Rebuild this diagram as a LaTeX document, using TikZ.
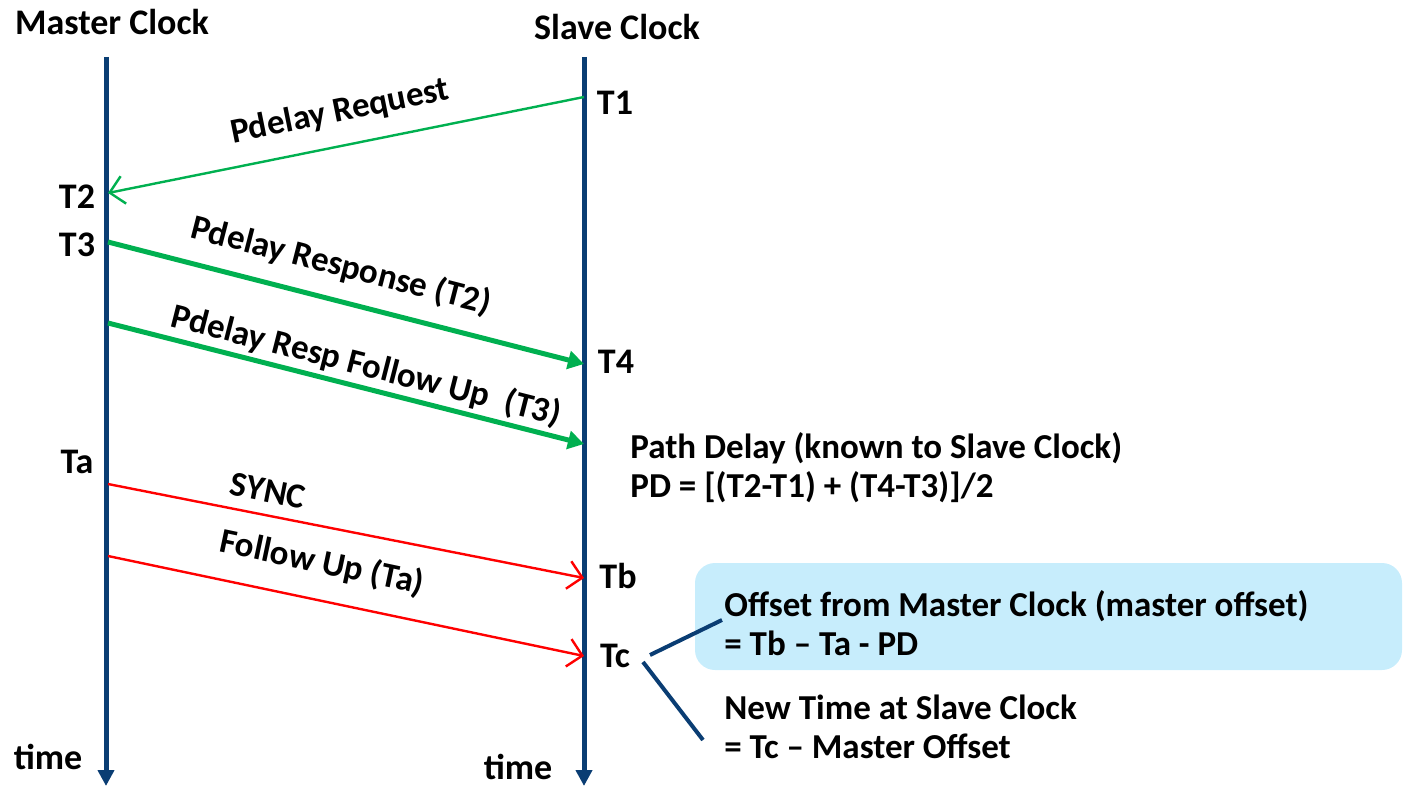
\documentclass[tikz,border=0pt]{standalone}
\usepackage{fontspec}
\setmainfont{Carlito}
\usetikzlibrary{arrows.meta}
\definecolor{clockblue}{RGB}{10,61,115}
\definecolor{msggreen}{RGB}{0,176,80}
\definecolor{msgred}{RGB}{255,0,0}
\definecolor{notefill}{RGB}{199,237,252}
\tikzset{
  timeline/.style={draw=clockblue, line width=2.5pt, -{Triangle[length=8pt,width=8pt]}},
  reqmsg/.style={draw=msggreen, line width=1.2pt, -{Straight Barb[length=7pt,width=14pt]}},
  respmsg/.style={draw=msggreen, line width=2.5pt, -{Triangle[length=8pt,width=9pt]}},
  syncmsg/.style={draw=msgred, line width=1.2pt, -{Straight Barb[length=7pt,width=14pt]}},
  callout/.style={draw=clockblue, line width=2pt},
  head/.style={font=\fontsize{18pt}{20pt}\selectfont\bfseries, inner sep=0pt},
  lbl/.style={font=\fontsize{18pt}{22pt}\selectfont\bfseries, inner sep=0pt},
  msglbl/.style={font=\fontsize{17.5pt}{20pt}\selectfont\bfseries, inner sep=0pt},
  note/.style={font=\fontsize{17.5pt}{19.5pt}\selectfont\bfseries, inner sep=0pt, align=left, anchor=west},
}
\begin{document}
\begin{tikzpicture}[x=0.5pt, y=-0.5pt]
\useasboundingbox (0,0) rectangle (1403,786);

% clock time lines
\coordinate (mtop) at (106,57);
\coordinate (mbot) at (106,786);
\coordinate (stop) at (584,57);
\coordinate (sbot) at (584,786);
\draw[timeline] (mtop) -- (mbot);
\draw[timeline] (stop) -- (sbot);

\node[head] (mhead) at (112,22) {Master Clock};
\node[head] (shead) at (617,27) {Slave Clock};
\node[lbl] (mtime) at (48,757) {time};
\node[lbl] (stime) at (518,767) {time};

% event points
\coordinate (t1) at (584,97);
\coordinate (t2) at (108,193);
\coordinate (t3) at (108,242);
\coordinate (t4) at (584,364);
\coordinate (fu3) at (108,323);
\coordinate (fu3e) at (584,444);
\coordinate (ta) at (108,484);
\coordinate (tb) at (584,578);
\coordinate (fua) at (108,556);
\coordinate (tc) at (584,656);

\node[lbl] (lt1) at (615,103) {T1};
\node[lbl] (lt2) at (77,197) {T2};
\node[lbl] (lt3) at (77,245) {T3};
\node[lbl] (lt4) at (616,362) {T4};
\node[lbl] (lta) at (77,462) {Ta};
\node[lbl] (ltb) at (618,576) {Tb};
\node[lbl] (ltc) at (615,656) {Tc};

% peer delay exchange
\draw[reqmsg] (t1) -- (t2);
\draw[respmsg] (t3) -- (t4);
\draw[respmsg] (fu3) -- (fu3e);
\node[msglbl, rotate=11.4] (lreq) at (340,112) {Pdelay Request};
\node[msglbl, rotate=-14.4] (lresp) at (341,266) {Pdelay Response (T2)};
\node[msglbl, rotate=-14.3] (lfu3) at (366,366) {Pdelay Resp Follow Up~~(T3)};

% sync exchange
\draw[syncmsg] (ta) -- (tb);
\draw[syncmsg] (fua) -- (tc);
\node[msglbl, rotate=-11.2] (lsync) at (268,491) {SYNC};
\node[msglbl, rotate=-11.9] (lfua) at (322,563) {Follow Up (Ta)};

% results
\node[note] (pd) at (630,468) {Path Delay (known to Slave Clock)\\PD = [(T2-T1) + (T4-T3)]/2};
\fill[notefill, rounded corners=10pt] (695,563) rectangle (1402,670);
\node[note] (offs) at (724,623) {Offset from Master Clock (master offset)\\= Tb – Ta - PD};
\node[note] (newt) at (724,727) {New Time at Slave Clock\\= Tc – Master Offset};
\coordinate (ca) at (650,655);
\coordinate (cb) at (722,620);
\coordinate (cc) at (643,662);
\coordinate (cd) at (703,740);
\draw[callout] (ca) -- (cb);
\draw[callout] (cc) -- (cd);
\end{tikzpicture}
\end{document}
